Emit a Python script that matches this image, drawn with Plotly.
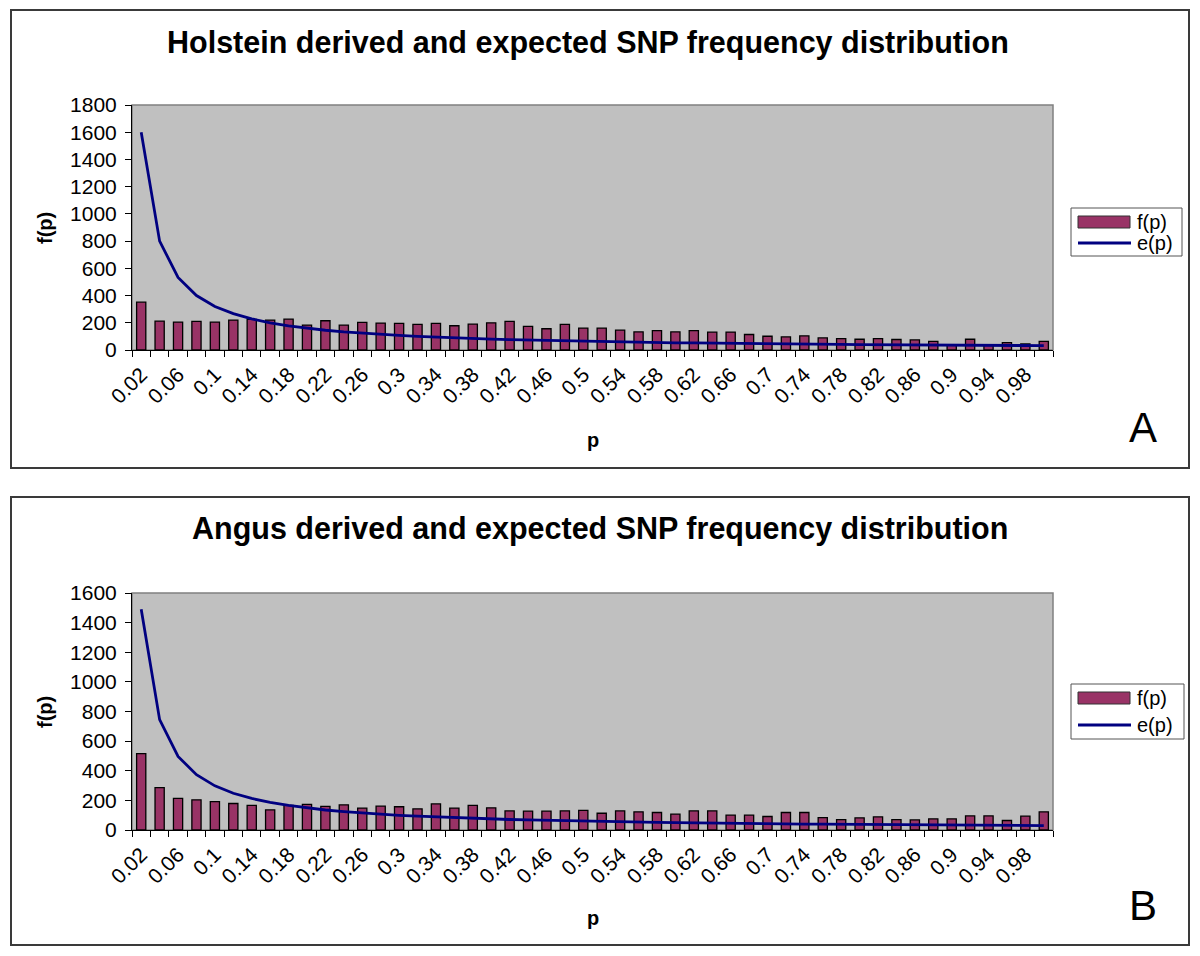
import plotly.graph_objects as go

p_values = [0.02, 0.04, 0.06, 0.08, 0.10, 0.12, 0.14, 0.16, 0.18, 0.20,
            0.22, 0.24, 0.26, 0.28, 0.30, 0.32, 0.34, 0.36, 0.38, 0.40,
            0.42, 0.44, 0.46, 0.48, 0.50, 0.52, 0.54, 0.56, 0.58, 0.60,
            0.62, 0.64, 0.66, 0.68, 0.70, 0.72, 0.74, 0.76, 0.78, 0.80,
            0.82, 0.84, 0.86, 0.88, 0.90, 0.92, 0.94, 0.96, 0.98, 1.00]

tick_labels = ["0.02", "0.06", "0.1", "0.14", "0.18", "0.22", "0.26", "0.3", "0.34",
               "0.38", "0.42", "0.46", "0.5", "0.54", "0.58", "0.62", "0.66", "0.7",
               "0.74", "0.78", "0.82", "0.86", "0.9", "0.94", "0.98"]
tick_positions = [0.02, 0.06, 0.10, 0.14, 0.18, 0.22, 0.26, 0.30, 0.34,
                  0.38, 0.42, 0.46, 0.50, 0.54, 0.58, 0.62, 0.66, 0.70,
                  0.74, 0.78, 0.82, 0.86, 0.90, 0.94, 0.98]

holstein_f = [351, 212, 205, 210, 205, 220, 225, 220, 227, 183,
              215, 183, 203, 198, 195, 188, 195, 178, 190, 200,
              210, 173, 156, 188, 161, 161, 146, 133, 143, 133,
              143, 131, 132, 114, 101, 96, 104, 89, 84, 79,
              84, 77, 74, 64, 37, 79, 35, 54, 44, 64]
holstein_e = [1600, 800, 533, 400, 320, 267, 229, 200, 178, 160,
              145, 133, 123, 114, 107, 100, 94, 89, 84, 80,
              76, 73, 70, 67, 64, 62, 59, 57, 55, 53,
              52, 50, 48, 47, 46, 44, 43, 42, 41, 40,
              39, 38, 37, 36, 36, 35, 34, 33, 33, 32]

angus_f = [515, 286, 213, 204, 191, 179, 166, 136, 166, 173,
           159, 170, 148, 161, 157, 143, 176, 148, 166, 150,
           129, 127, 127, 129, 132, 113, 129, 123, 118, 107,
           129, 129, 100, 100, 91, 118, 118, 84, 70, 82,
           89, 70, 68, 75, 75, 95, 95, 64, 93, 123]
angus_e = [1490, 745, 497, 373, 298, 248, 213, 186, 166, 149,
           135, 124, 115, 106, 99, 93, 88, 83, 78, 75,
           71, 68, 65, 62, 60, 57, 55, 53, 51, 50,
           48, 47, 45, 44, 43, 41, 40, 39, 38, 37,
           36, 35, 35, 34, 33, 32, 32, 31, 30, 30]

series_names = ["f(p)", "e(p)"]

# page has an 8px body margin, so the figure is laid out 8px smaller and offset
OFF = 8
W, H = 1200 - OFF, 956 - OFF
FONT = "Arial, Liberation Sans, sans-serif"
BAR_COLOR = "#993366"
LINE_COLOR = "#000080"


def py(px):
    return 1 - (px - OFF) / H


def pxx(px):
    return (px - OFF) / W


fig = go.Figure()

fig.add_trace(go.Bar(x=p_values, y=holstein_f, name=series_names[0],
                     marker=dict(color=BAR_COLOR, line=dict(color="black", width=1.3)),
                     xaxis="x", yaxis="y"))
fig.add_trace(go.Scatter(x=p_values, y=holstein_e, name=series_names[1], mode="lines",
                         line=dict(color=LINE_COLOR, width=2.8), xaxis="x", yaxis="y"))
fig.add_trace(go.Bar(x=p_values, y=angus_f, name=series_names[0],
                     marker=dict(color=BAR_COLOR, line=dict(color="black", width=1.3)),
                     xaxis="x2", yaxis="y2"))
fig.add_trace(go.Scatter(x=p_values, y=angus_e, name=series_names[1], mode="lines",
                         line=dict(color=LINE_COLOR, width=2.8), xaxis="x2", yaxis="y2"))

xdom = [pxx(132), pxx(1053)]
common_x = dict(range=[0.01, 1.01], tickmode="array", tickvals=tick_positions, ticktext=tick_labels,
                tickangle=-45, ticks="", showgrid=False, zeroline=False, automargin=False,
                showline=True, linecolor="black", linewidth=1, ticklabelstandoff=3,
                tickfont=dict(family=FONT, size=21, color="black"),
                minor=dict(tick0=0.01, dtick=0.02, ticks="outside", ticklen=6,
                           tickcolor="black", tickwidth=1, showgrid=False))
common_y = dict(showgrid=False, zeroline=False, showline=True, linecolor="black", linewidth=1,
                ticks="outside", ticklen=6, tickcolor="black", tickwidth=1, dtick=200, automargin=False,
                ticklabelstandoff=4,
                tickfont=dict(family=FONT, size=21, color="black"))

fig.update_layout(
    template="none",
    width=W, height=H,
    margin=dict(l=0, r=0, t=0, b=0, pad=0, autoexpand=False),
    paper_bgcolor="white",
    plot_bgcolor="#c0c0c0",
    bargap=0.5,
    showlegend=False,
    xaxis=dict(domain=xdom, anchor="y", **common_x),
    yaxis=dict(domain=[py(350), py(105)], anchor="x", range=[0, 1800], **common_y),
    xaxis2=dict(domain=xdom, anchor="y2", **common_x),
    yaxis2=dict(domain=[py(830), py(593)], anchor="x2", range=[0, 1600], **common_y),
)

shapes = []
ann = []


def label(text, x, y, size, bold=False, angle=0, xanchor="center"):
    ann.append(dict(text=f"<b>{text}</b>" if bold else text, x=pxx(x), y=py(y), xref="paper", yref="paper",
                    showarrow=False, xanchor=xanchor, yanchor="middle", textangle=angle,
                    font=dict(family=FONT, size=size, color="black")))


# panel borders
for top, bot in [(10, 468), (497, 945)]:
    shapes.append(dict(type="rect", xref="paper", yref="paper", x0=pxx(11), x1=pxx(1189), y0=py(bot), y1=py(top),
                       line=dict(color="#3a3a3a", width=2), fillcolor="rgba(0,0,0,0)", layer="below"))
# plot area gray border
for y0, y1 in [(350, 105), (830, 593)]:
    shapes.append(dict(type="rect", xref="paper", yref="paper", x0=xdom[0], x1=xdom[1], y0=py(y0), y1=py(y1),
                       line=dict(color="#808080", width=1.5), fillcolor="rgba(0,0,0,0)", layer="below"))

# legends (drawn manually to match the wide Excel swatches)
for top, bot, yc1, yc2, right in [(208, 256, 222, 243, 1182), (684, 739, 698, 725, 1184)]:
    shapes.append(dict(type="rect", xref="paper", yref="paper", x0=pxx(1071), x1=pxx(right), y0=py(bot), y1=py(top),
                       line=dict(color="#555555", width=1), fillcolor="white", layer="above"))
    shapes.append(dict(type="rect", xref="paper", yref="paper", x0=pxx(1078), x1=pxx(1130),
                       y0=py(yc1 + 6), y1=py(yc1 - 6),
                       line=dict(color="#333333", width=1), fillcolor=BAR_COLOR, layer="above"))
    shapes.append(dict(type="line", xref="paper", yref="paper", x0=pxx(1078), x1=pxx(1131),
                       y0=py(yc2), y1=py(yc2), line=dict(color=LINE_COLOR, width=2.8), layer="above"))
    label(series_names[0], 1135, yc1, 20, xanchor="left")
    label(series_names[1], 1135, yc2, 20, xanchor="left")

label("Holstein derived and expected SNP frequency distribution", 588, 42, 30.5, bold=True)
label("Angus derived and expected SNP frequency distribution", 600, 528, 30.5, bold=True)
for yc in [228, 712]:
    label("f(p)", 45, yc, 20, bold=True, angle=-90)
for yc in [440, 918]:
    label("p", 593, yc, 20, bold=True)
label("A", 1143, 427, 42)
label("B", 1143, 905, 42)

fig.update_layout(shapes=shapes, annotations=ann)

fig.write_html("out.html")
